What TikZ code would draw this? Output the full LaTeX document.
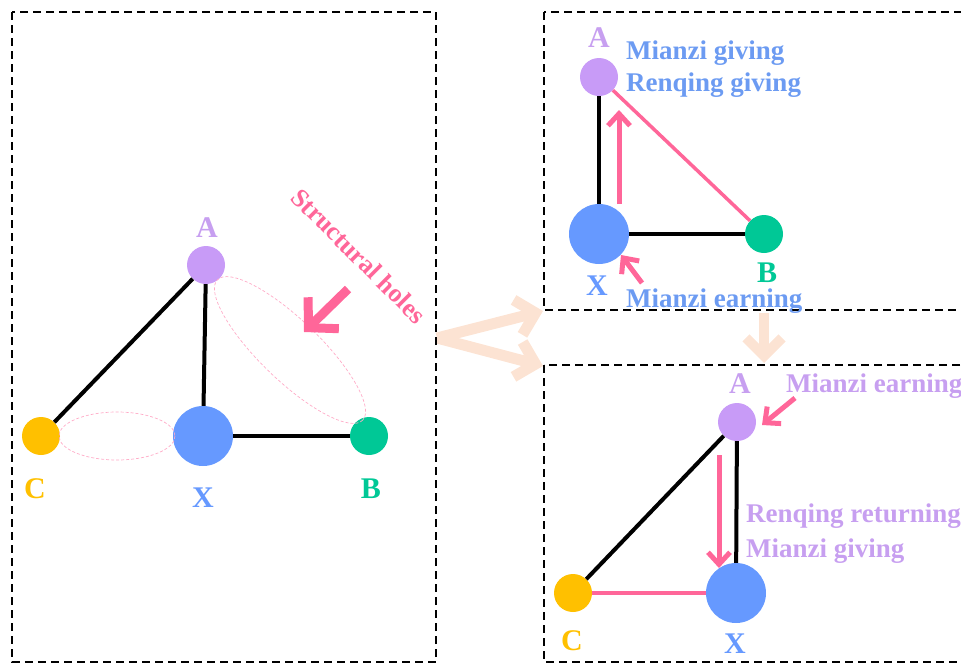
\documentclass[tikz,border=0pt]{standalone}
\usepackage{fontspec}
\setmainfont{Liberation Serif}
\usetikzlibrary{arrows.meta}
\definecolor{nodeA}{HTML}{C89BF7}
\definecolor{nodeX}{HTML}{6699FF}
\definecolor{nodeB}{HTML}{00C896}
\definecolor{nodeC}{HTML}{FFC000}
\definecolor{rose}{HTML}{FF6699}
\definecolor{peach}{HTML}{FCE3D3}
\definecolor{txtA}{HTML}{C79FF0}
\definecolor{txtX}{HTML}{6C9BF2}
\tikzset{actor/.style={circle, inner sep=0pt, minimum size=#1},
  tag/.style={font=\fontsize{30}{30}\selectfont\bfseries, anchor=base},
  note/.style={font=\fontsize{27}{27}\selectfont\bfseries, anchor=base west, inner sep=0pt},
  tie/.style={line width=4pt},
  rosetie/.style={line width=3.5pt, draw=rose},
  flow/.style={draw=rose, line width=5pt, -{Straight Barb[length=12pt, width=22pt]}},
  pass/.style={draw=peach, line width=11pt, -{Straight Barb[length=18pt, width=36pt]}},
  hole/.style={draw=rose!55, line width=0.7pt, dash pattern=on 3pt off 2pt},
  frame/.style={line width=1.2pt, dash pattern=on 8pt off 5pt}}

\begin{document}
\begin{tikzpicture}[x=1pt, y=-1pt]
  \useasboundingbox (0,0) rectangle (961,665);
  % hand-over arrows between the panels
  \coordinate (fork) at (437,338);
  \coordinate (toTop) at (543,311);
  \coordinate (toBot) at (543,366);
  \coordinate (downS) at (764,313);
  \coordinate (downE) at (764,363);
  \draw[pass] (fork) -- (toTop);
  \draw[pass] (fork) -- (toBot);
  \draw[pass, line width=10pt] (downS) -- (downE);

  % panel frames
  \draw[frame] (12,12) rectangle (436,662);
  \draw[frame] (544,12) rectangle (975,310);
  \draw[frame] (544,365) rectangle (975,662);

  % left panel: the open triad
  \node[actor=38pt, fill=nodeA] (a1) at (206,265) {};
  \node[actor=60pt, fill=nodeX] (x1) at (203,436) {};
  \node[actor=38pt, fill=nodeC] (c1) at (41,436) {};
  \node[actor=38pt, fill=nodeB] (b1) at (369,436) {};
  \draw[tie] (a1) -- (c1);
  \draw[tie] (a1) -- (x1);
  \draw[tie] (x1) -- (b1);
  \draw[hole] (117,436) ellipse [x radius=58, y radius=24];
  \draw[hole, rotate around={-44:(290,350)}] (290,350) ellipse [x radius=101, y radius=30];
  \node[tag, txtA] (la1) at (207,237) {A};
  \node[tag, nodeX] (lx1) at (203,507) {X};
  \node[tag, nodeC] (lc1) at (35,498) {C};
  \node[tag, nodeB] (lb1) at (371,498) {B};
  \node[font=\fontsize{26}{26}\selectfont\bfseries, text=rose, rotate=-45] (sh) at (359,256) {Structural holes};
  \coordinate (shS) at (348,289);
  \coordinate (shE) at (304,332);
  \draw[flow, line width=9pt, -{Straight Barb[length=21pt, width=44pt]}] (shS) -- (shE);

  % top right: X brokers between A and B
  \node[actor=38pt, fill=nodeA] (a2) at (599,77) {};
  \node[actor=60pt, fill=nodeX] (x2) at (599,234) {};
  \node[actor=38pt, fill=nodeB] (b2) at (764,234) {};
  \draw[tie] (a2) -- (x2);
  \draw[tie] (x2) -- (b2);
  \draw[rosetie] (a2) -- (b2);
  \node[tag, txtA] (la2) at (599,47) {A};
  \node[tag, nodeX] (lx2) at (597,295) {X};
  \node[tag, nodeB] (lb2) at (767,282) {B};
  \coordinate (up1) at (619,204);
  \coordinate (up2) at (619,110);
  \draw[flow] (up1) -- (up2);
  \coordinate (ern1) at (642,283);
  \coordinate (ern2) at (621,255);
  \draw[flow] (ern1) -- (ern2);
  \node[note, txtX] (g1) at (626,59) {Mianzi giving};
  \node[note, txtX] (g2) at (626,91) {Renqing giving};
  \node[note, txtX] (g3) at (626,307) {Mianzi earning};

  % bottom right: A returns the favour
  \node[actor=38pt, fill=nodeA] (a3) at (737,422) {};
  \node[actor=60pt, fill=nodeX] (x3) at (736,593) {};
  \node[actor=38pt, fill=nodeC] (c3) at (573,593) {};
  \draw[tie] (a3) -- (c3);
  \draw[tie] (a3) -- (x3);
  \draw[rosetie] (c3) -- (x3);
  \node[tag, txtA] (la3) at (740,393) {A};
  \node[tag, nodeX] (lx3) at (735,653) {X};
  \node[tag, nodeC] (lc3) at (572,650) {C};
  \coordinate (dn1) at (719,455);
  \coordinate (dn2) at (719,568);
  \draw[flow] (dn1) -- (dn2);
  \coordinate (ern3) at (795,398);
  \coordinate (ern4) at (762,425);
  \draw[flow] (ern3) -- (ern4);
  \node[note, txtA] (r1) at (786,392) {Mianzi earning};
  \node[note, txtA] (r2) at (746,522) {Renqing returning};
  \node[note, txtA] (r3) at (746,557) {Mianzi giving};
\end{tikzpicture}
\end{document}
